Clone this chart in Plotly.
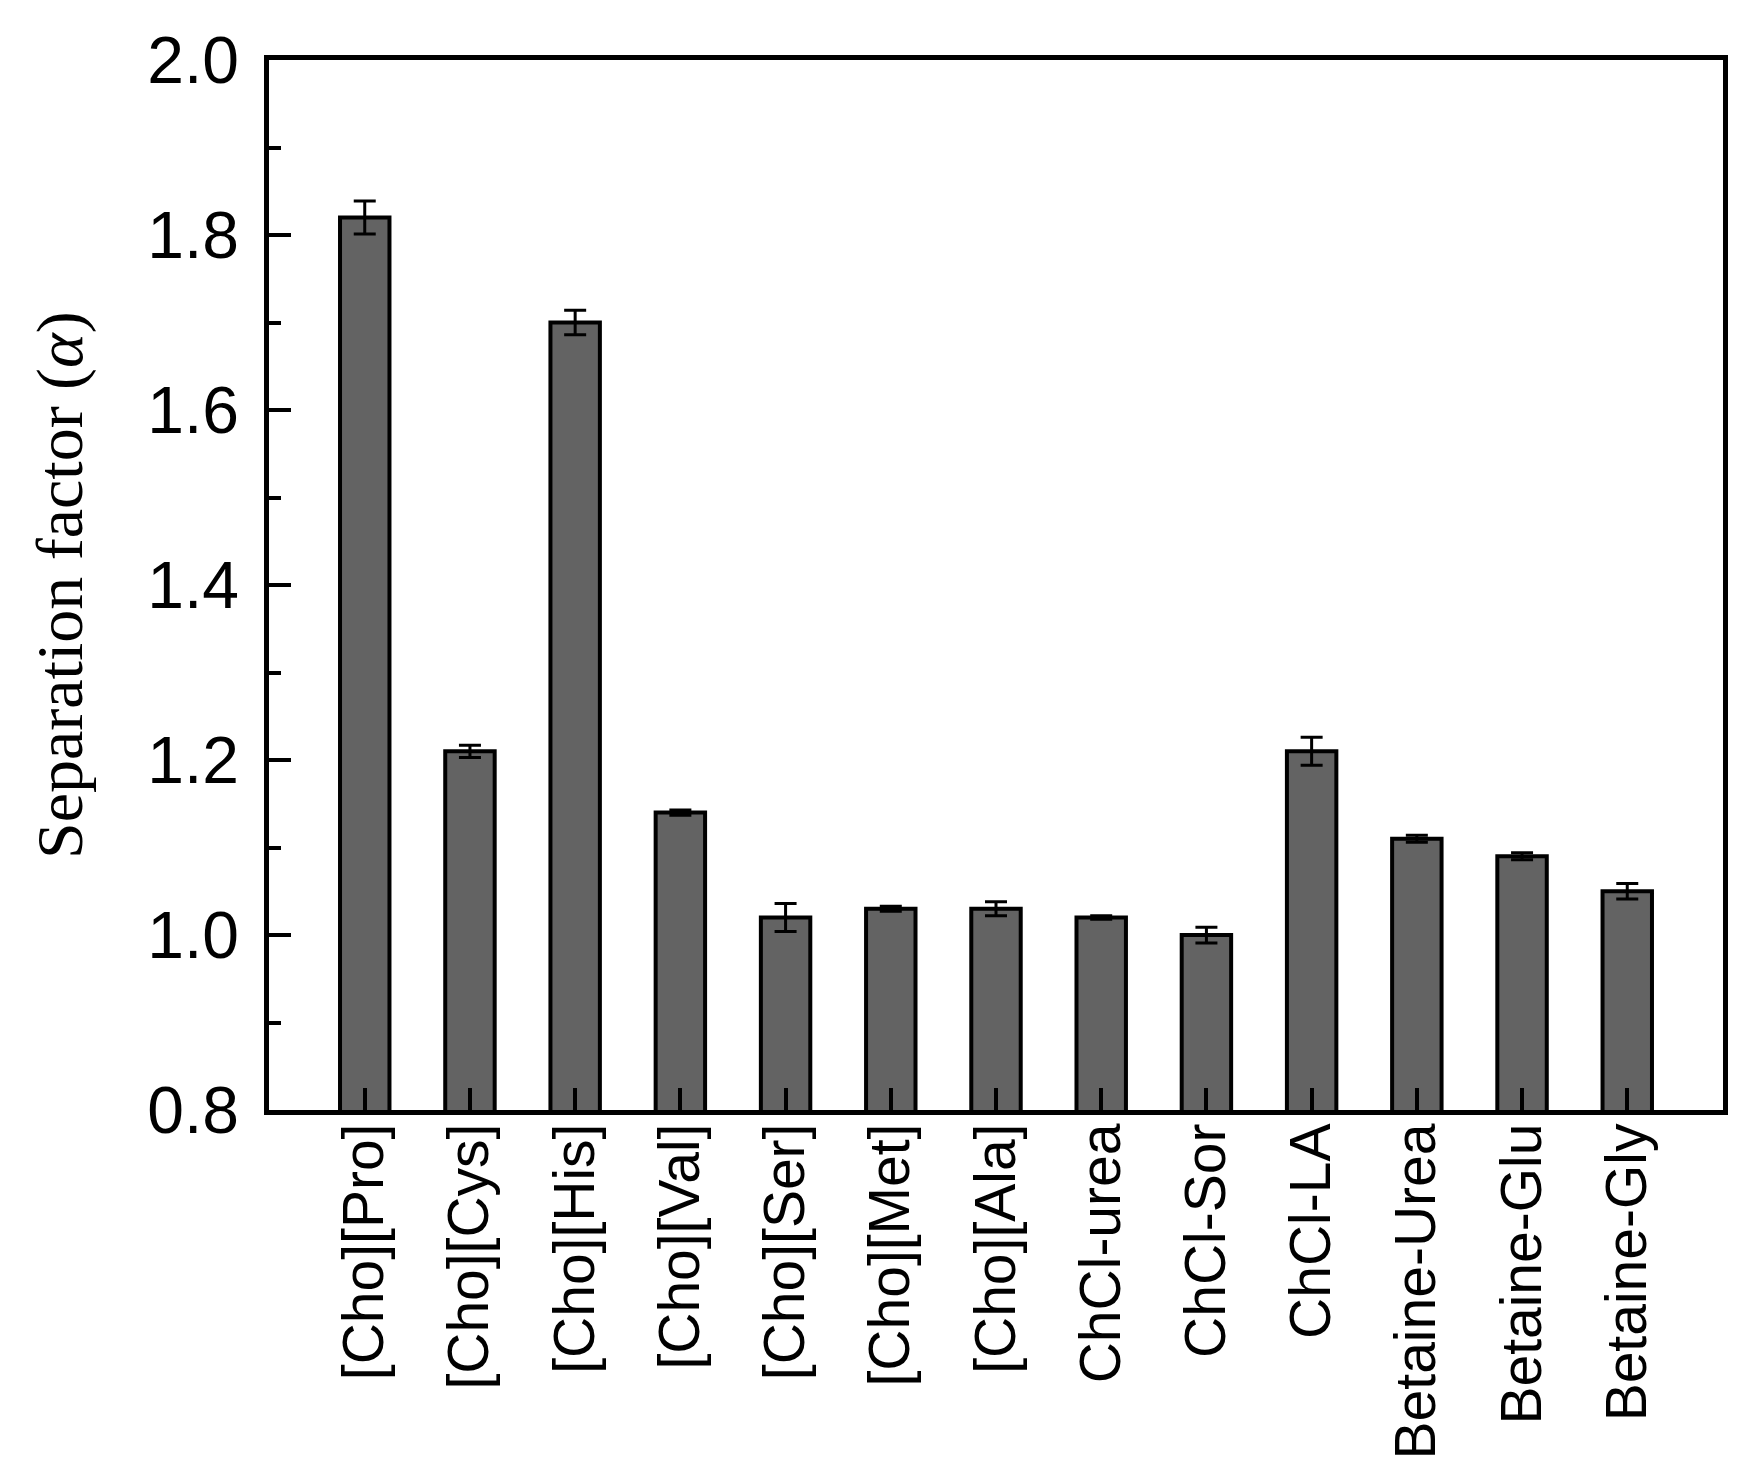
import plotly.graph_objects as go

# separation factor for each ionic liquid / DES, with error bars
solvents = ["[Cho][Pro]", "[Cho][Cys]", "[Cho][His]", "[Cho][Val]", "[Cho][Ser]",
            "[Cho][Met]", "[Cho][Ala]", "ChCl-urea", "ChCl-Sor", "ChCl-LA",
            "Betaine-Urea", "Betaine-Glu", "Betaine-Gly"]
alpha = [1.82, 1.21, 1.70, 1.14, 1.02, 1.03, 1.03, 1.02, 1.00, 1.21, 1.11, 1.09, 1.05]
alpha_err = [0.019, 0.007, 0.014, 0.003, 0.016, 0.003, 0.008, 0.002, 0.009, 0.016, 0.004, 0.004, 0.009]

y_ticks = [0.8, 1.0, 1.2, 1.4, 1.6, 1.8, 2.0]

fig = go.Figure(go.Bar(
    x=solvents, y=alpha,
    width=0.47,
    marker=dict(color="#636363", line=dict(color="black", width=4)),
    error_y=dict(type="data", array=alpha_err, color="black", thickness=3, width=11),
))

fig.update_layout(
    width=1746, height=1472,
    margin=dict(l=261, r=31, t=52, b=370),
    plot_bgcolor="white", paper_bgcolor="white",
    showlegend=False,
    # y title placed by hand, left of the tick labels
    annotations=[dict(
        text="Separation factor (<i>α</i>)",
        textangle=-90,
        xref="paper", yref="paper",
        x=(52 - 261) / 1454, y=0.5,
        xanchor="center", yanchor="middle",
        showarrow=False,
        font=dict(family="Times New Roman, Liberation Serif", size=66, color="black"),
    )],
)

fig.update_xaxes(
    range=[-0.91, 12.91],
    showline=True, linecolor="black", linewidth=4.5, mirror=True,
    ticks="inside", ticklen=22, tickwidth=4, tickcolor="black",
    tickangle=-90, ticklabelstandoff=-14,
    tickfont=dict(family="Arial, Liberation Sans", size=57, color="black"),
    showgrid=False,
)

fig.update_yaxes(
    range=[0.8, 2.0],
    tickvals=y_ticks, tickformat=".1f",
    showline=True, linecolor="black", linewidth=4.5, mirror=True,
    ticks="inside", ticklen=22, tickwidth=4, tickcolor="black",
    ticklabelstandoff=12,
    minor=dict(dtick=0.1, ticks="inside", ticklen=12, tickwidth=4, tickcolor="black"),
    tickfont=dict(family="Arial, Liberation Sans", size=66, color="black"),
    showgrid=False, zeroline=False,
)

fig.write_html("out.html")
